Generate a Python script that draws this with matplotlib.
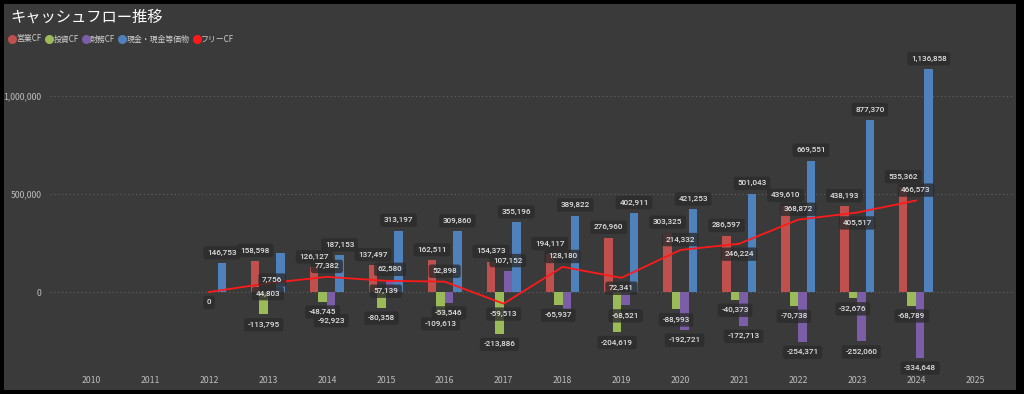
import numpy as np
import matplotlib
matplotlib.use('Agg')
import matplotlib.pyplot as plt
from matplotlib.patches import Rectangle
from matplotlib.lines import Line2D
from matplotlib.ticker import FuncFormatter

plt.rcParams['font.family'] = ['Noto Sans CJK JP', 'DejaVu Sans']

# キャッシュフロー data (2012-2024)
years = list(range(2012, 2025))
eigyo = [np.nan, 158598, 126127, 137497, 162511, 154373, 194117, 276960, 303325, 286597, 439610, 438193, 535362]
toushi = [np.nan, -113795, -48745, -80358, -109613, -213886, -65937, -204619, -88993, -40373, -70738, -32676, -68789]
zaimu = [np.nan, 7756, -92923, 62580, -53546, 107152, -85000, -68521, -192721, -172713, -254371, -252060, -334648]
genkin = [146753, 199000, 187153, 313197, 309860, 355196, 389822, 402911, 421253, 501043, 669551, 877370, 1136858]
free_cf = [0, 44803, 77382, 57139, 52898, -59513, 128180, 72341, 214332, 246224, 368872, 405517, 466573]
xticks = list(range(2010, 2026))

names = ['営業CF', '投資CF', '財務CF', '現金・現金等価物']
colors = ['#c0504d', '#9bbb59', '#7b5ea7', '#4f81bd']
line_color = '#ff1a1a'

# labels not shown in the original (overlap)
hidden = {(3, 2013), (2, 2018)}
# free CF label above(+1)/below(-1) the point
free_side = [-1, -1, 1, -1, 1, -1, 1, -1, 1, -1, 1, -1, 1]

fig = plt.figure(figsize=(10.24, 3.94), dpi=100, facecolor='black')
fig.patches.append(Rectangle((4 / 1024, 4 / 394), 1012 / 1024, 386 / 394,
                             transform=fig.transFigure, facecolor='#3a3a3a',
                             edgecolor='none', zorder=-10))
ax = fig.add_axes([50 / 1024, 22 / 394, 962 / 1024, 317 / 394])
ax.set_facecolor('none')
ax.set_zorder(2)

label_font = dict(family=['Roboto', 'DejaVu Sans'], fontsize=5.9,
                  fontweight='medium', color='#e0e0e0')
box = dict(boxstyle='round,pad=0.45,rounding_size=0.3', facecolor='#2c2c2c',
           alpha=0.8, edgecolor='none')

w = 0.144
x = np.array(years, dtype=float)
series = [eigyo, toushi, zaimu, genkin]
for i, (vals, col) in enumerate(zip(series, colors)):
    xs = x + (i - 1.5) * w
    ax.bar(xs, vals, width=w, color=col, zorder=2)
    for xi, yr, v in zip(xs, years, vals):
        if np.isnan(v) or (i, yr) in hidden:
            continue
        off = 7.5 if v >= 0 else -7.5
        ax.annotate(f'{int(v):,}', (xi, v), xytext=(0, off), textcoords='offset points',
                    ha='center', va='center', bbox=box, zorder=5, **label_font)

ax.plot(x, free_cf, color=line_color, linewidth=1.3, zorder=4)
for xi, v, s in zip(x, free_cf, free_side):
    ax.annotate(f'{int(v):,}', (xi, v), xytext=(0, 7.5 * s), textcoords='offset points',
                ha='center', va='center', bbox=box, zorder=6, **label_font)

ax.set_xlim(2009.30, 2025.63)
ax.set_ylim(-408000, 1209000)
ax.set_xticks(xticks)
ax.set_xticklabels([str(t) for t in xticks])
ax.set_yticks([0, 500000, 1000000])
ax.yaxis.set_major_formatter(FuncFormatter(lambda v, p: f'{int(v):,}'))
ax.tick_params(axis='both', length=0, colors='#bdbdbd', labelsize=6.3)
ax.tick_params(axis='x', pad=3)
ax.tick_params(axis='y', pad=6)
ax.grid(axis='y', color='#6a6a6a', linestyle=(0, (1, 3)), linewidth=0.7, zorder=0)
for sp in ax.spines.values():
    sp.set_visible(False)

fig.text(10 / 1024, 1 - 17 / 394, 'キャッシュフロー推移', color='white', fontsize=11,
         ha='left', va='center')

handles = [Line2D([], [], marker='o', linestyle='', markersize=5.5, color=c) for c in colors]
handles.append(Line2D([], [], marker='o', linestyle='', markersize=5.5, color=line_color))
leg = fig.legend(handles, names + ['フリーCF'], loc='center left',
                 bbox_to_anchor=(9 / 1024, 1 - 39 / 394), ncol=5, frameon=False,
                 fontsize=5.7, handletextpad=0.15, columnspacing=0.5, handlelength=0.8,
                 labelcolor='#d0d0d0', borderaxespad=0, borderpad=0)

fig.savefig('out.png', dpi=100, facecolor=fig.get_facecolor())
